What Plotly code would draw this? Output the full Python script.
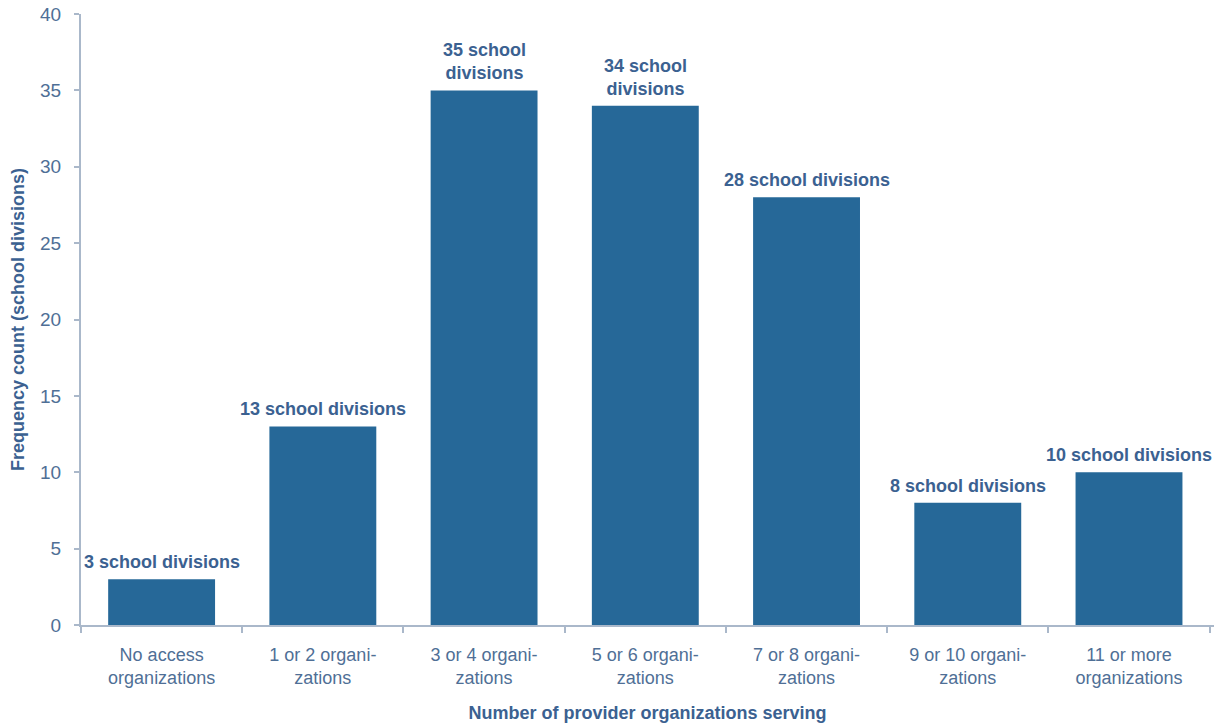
import plotly.graph_objects as go

categories = [
    "No access<br>organizations",
    "1 or 2 organi-<br>zations",
    "3 or 4 organi-<br>zations",
    "5 or 6 organi-<br>zations",
    "7 or 8 organi-<br>zations",
    "9 or 10 organi-<br>zations",
    "11 or more<br>organizations",
]
counts = [3, 13, 35, 34, 28, 8, 10]
bar_labels = [
    "3 school divisions",
    "13 school divisions",
    "35 school<br>divisions",
    "34 school<br>divisions",
    "28 school divisions",
    "8 school divisions",
    "10 school divisions",
]

BAR = "#266898"
AXIS = "#aab8ca"
TICK_TEXT = "#4f6f96"
LABEL = "#3b6191"
FONT = "Liberation Sans, Arial, sans-serif"

fig = go.Figure(
    go.Bar(
        x=categories,
        y=counts,
        marker=dict(color=BAR, line=dict(width=0)),
        hoverinfo="skip",
    )
)

# value labels sitting just above each bar
for cat, val, lab in zip(categories, counts, bar_labels):
    fig.add_annotation(
        x=cat,
        y=val,
        text=f"<b>{lab}</b>",
        showarrow=False,
        yanchor="bottom",
        yshift=5,
        font=dict(family=FONT, size=18, color=LABEL),
    )

fig.update_layout(
    width=1216,
    height=723,
    margin=dict(l=81, r=2, t=14, b=98),
    paper_bgcolor="white",
    plot_bgcolor="white",
    bargap=0.337,
    showlegend=False,
    font=dict(family=FONT, size=18, color=TICK_TEXT),
)

fig.update_xaxes(
    type="category",
    automargin=False,
    showline=True,
    linecolor=AXIS,
    linewidth=2,
    ticks="outside",
    tickson="boundaries",
    tickcolor=AXIS,
    ticklen=6,
    tickwidth=2,
    ticklabelstandoff=12,
    showgrid=False,
    tickfont=dict(family=FONT, size=18, color=TICK_TEXT),
    title=dict(
        text="<b>Number of provider organizations serving</b>",
        font=dict(family=FONT, size=18, color=LABEL),
        standoff=20,
    ),
)

fig.update_yaxes(
    range=[0, 40],
    dtick=5,
    automargin=False,
    showline=True,
    linecolor=AXIS,
    linewidth=2,
    ticks="outside",
    tickcolor=AXIS,
    ticklen=5,
    tickwidth=2,
    ticklabelstandoff=9,
    showgrid=False,
    zeroline=False,
    tickfont=dict(family=FONT, size=19, color=TICK_TEXT),
    title=dict(
        text="<b>Frequency count (school divisions)</b>",
        font=dict(family=FONT, size=18, color=LABEL),
        standoff=11,
    ),
)

fig.write_html("out.html")
